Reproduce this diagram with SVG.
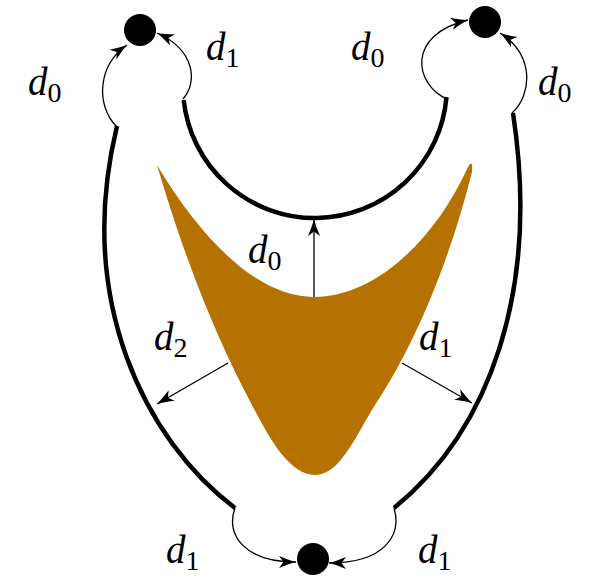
<svg xmlns="http://www.w3.org/2000/svg" width="593" height="577" viewBox="0 0 593 577">
<style>
.thick{fill:none;stroke:#000;stroke-width:4.5;stroke-linecap:butt}
.thin{fill:none;stroke:#000;stroke-width:1.3}
.lbl{font-family:"Liberation Serif",serif;font-size:39px;fill:#000}
.lbl .v{font-style:italic}
.lbl .s{font-size:28px}
</style>
<defs>
<marker id="ah" viewBox="-18 -7 19 14" refX="0" refY="0" markerWidth="19" markerHeight="14" markerUnits="userSpaceOnUse" orient="auto">
<path d="M0,0 C-6,-1.5 -12,-4 -17,-6 L-12.5,0 L-17,6 C-12,4 -6,1.5 0,0 Z" fill="#000"/>
</marker>
</defs>
<rect width="593" height="577" fill="#fff"/>
<g id="shape">
<path d="M157,165 C205,245 260,297 314,297 C375,297 435,240 468,167 Q473,158 472,172 C450,260 415,345 375,405 C355,437 340,475 315,475 C290,475 270,440 252,405 C220,345 188,270 157,165 Z" fill="#B57200"/>
</g>
<g id="connectors">
<path class="thick" d="M183.7,100 A132,132 0 0 0 446.5,97"/>
<path class="thick" d="M117,126 C75,300 145,440 235,508"/>
<path class="thick" d="M513,113 C540,290 490,430 394,508"/>
<path class="thin" d="M117,127 C95,105 98,65 127,45" marker-end="url(#ah)"/>
<path class="thin" d="M183,99 C198,82 195,50 157,33" marker-end="url(#ah)"/>
<path class="thin" d="M447,99 C415,85 405,35 468,20" marker-end="url(#ah)"/>
<path class="thin" d="M512,113 C532,95 535,55 500,33" marker-end="url(#ah)"/>
<path class="thin" d="M235,508 C225,535 245,562 296,562" marker-end="url(#ah)"/>
<path class="thin" d="M394,508 C402,535 385,563 329,563" marker-end="url(#ah)"/>
<path class="thin" d="M314,297 L314,219" marker-end="url(#ah)"/>
<path class="thin" d="M228,363 L157,404" marker-end="url(#ah)"/>
<path class="thin" d="M402,363 L472,403" marker-end="url(#ah)"/>
</g>
<g id="n_topleft"><circle cx="140" cy="30" r="16" fill="#000"/></g>
<g id="n_topright"><circle cx="485" cy="22" r="16" fill="#000"/></g>
<g id="n_bottom"><circle cx="313" cy="559" r="16" fill="#000"/></g>
<g id="labels">
<text class="lbl" x="28" y="95"><tspan class="v">d</tspan><tspan class="s" dy="7">0</tspan></text>
<text class="lbl" x="206" y="60"><tspan class="v">d</tspan><tspan class="s" dy="7">1</tspan></text>
<text class="lbl" x="351" y="60"><tspan class="v">d</tspan><tspan class="s" dy="7">0</tspan></text>
<text class="lbl" x="538" y="95"><tspan class="v">d</tspan><tspan class="s" dy="7">0</tspan></text>
<text class="lbl" x="248" y="263"><tspan class="v">d</tspan><tspan class="s" dy="7">0</tspan></text>
<text class="lbl" x="154" y="350"><tspan class="v">d</tspan><tspan class="s" dy="7">2</tspan></text>
<text class="lbl" x="419" y="350"><tspan class="v">d</tspan><tspan class="s" dy="7">1</tspan></text>
<text class="lbl" x="166" y="563"><tspan class="v">d</tspan><tspan class="s" dy="7">1</tspan></text>
<text class="lbl" x="418" y="563"><tspan class="v">d</tspan><tspan class="s" dy="7">1</tspan></text>
</g>
</svg>
